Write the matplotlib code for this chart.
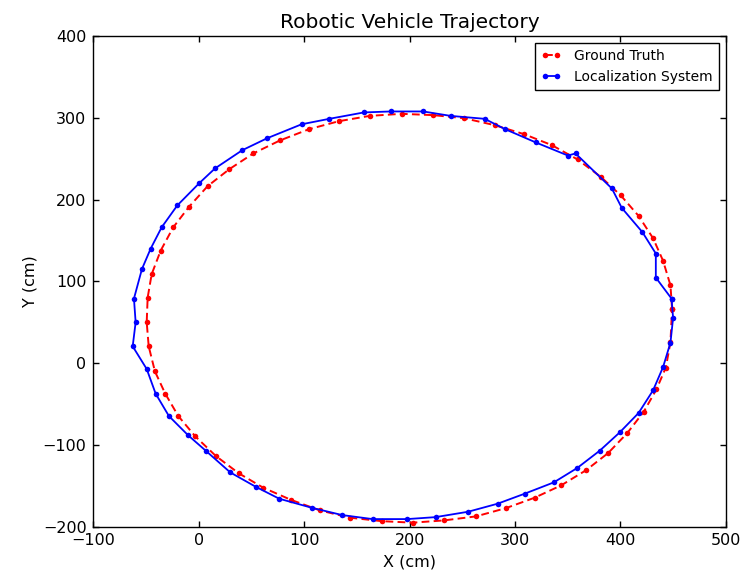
import matplotlib
matplotlib.use("Agg")
import matplotlib.pyplot as plt

# ground truth path (cm), counter-clockwise from the right-hand side
gt_x = [449.1, 447.6, 440.6, 431.1, 417.3, 400.5, 381.5, 359.4, 335.0, 308.7,
        280.9, 251.5, 222.4, 192.4, 162.3, 132.9, 104.5, 76.9, 51.6, 28.8,
        8.3, -9.4, -24.3, -36.2, -44.8, -48.6, -49.5, -47.6, -41.7, -31.9,
        -19.5, -3.4, 16.2, 38.0, 61.1, 87.1, 114.9, 143.4, 173.4, 202.8,
        232.8, 263.0, 291.4, 318.6, 343.8, 367.3, 388.4, 406.4, 422.3, 434.3,
        443.2, 447.6, 449.1]
gt_y = [66.6, 95.0, 125.0, 152.6, 180.0, 204.9, 227.7, 249.0, 266.5, 279.9,
        290.9, 299.5, 303.2, 304.8, 302.3, 295.8, 286.0, 272.2, 256.3, 237.0,
        216.3, 191.0, 166.0, 137.6, 108.6, 80.0, 49.8, 20.4, -10.2, -37.5,
        -64.9, -89.7, -113.8, -135.0, -152.5, -167.2, -180.3, -189.2, -193.4, -195.3,
        -192.5, -187.6, -177.5, -164.8, -149.7, -131.3, -110.2, -86.0, -59.5, -32.2,
        -5.6, 25.5, 66.6]

# localization system estimate (cm)
loc_x = [448.6, 433.7, 433.7, 421.0, 401.4, 392.0, 357.5, 350.2, 319.8, 290.7,
         271.2, 238.9, 212.9, 182.0, 156.6, 123.8, 97.5, 64.9, 41.2, 15.3,
         0.4, -20.5, -35.3, -45.7, -54.0, -61.6, -60.0, -62.8, -49.5, -41.0,
         -28.4, -10.1, 6.5, 29.8, 53.9, 76.3, 107.0, 136.1, 164.9, 197.7,
         224.7, 255.6, 283.5, 309.1, 336.9, 359.0, 380.5, 399.5, 417.3, 431.1,
         440.6, 447.6, 450.1, 448.6]
loc_y = [78.8, 104.5, 133.9, 160.0, 189.7, 213.5, 256.3, 253.8, 269.8, 286.0,
         298.7, 302.3, 307.7, 307.7, 306.5, 298.7, 292.0, 275.0, 260.3, 238.0,
         220.0, 192.7, 166.0, 140.0, 115.0, 78.8, 49.8, 20.4, -7.3, -37.5,
         -64.9, -88.5, -107.2, -133.8, -151.3, -166.0, -177.0, -186.0, -190.9, -190.9,
         -188.5, -181.9, -172.1, -159.9, -146.0, -128.5, -107.2, -84.8, -61.2, -33.4,
         -4.9, 25.0, 55.1, 78.8]

x_ticks = [-100, 0, 100, 200, 300, 400, 500]
y_ticks = [-200, -100, 0, 100, 200, 300, 400]

plt.rcParams["font.family"] = "DejaVu Sans"

fig = plt.figure(figsize=(7.42, 5.75), dpi=100)
ax = fig.add_axes([0.126, 0.0843, 0.852, 0.8531])

ax.plot(gt_x, gt_y, color="#ff0000", linestyle=(0, (4, 2.2)), linewidth=1.4,
        marker="o", markersize=4, markeredgewidth=0, label="Ground Truth")
ax.plot(loc_x, loc_y, color="#0000ff", linestyle="-", linewidth=1.3,
        marker="o", markersize=4, markeredgewidth=0, label="Localization System")

ax.set_xlim(-100, 500)
ax.set_ylim(-200, 400)
ax.set_xticks(x_ticks)
ax.set_yticks(y_ticks)
ax.tick_params(direction="in", length=4, width=1, top=True, right=True,
               labelsize=11.5, pad=5)
for s in ax.spines.values():
    s.set_linewidth(1.0)
    s.set_color("black")

ax.set_xlabel("X (cm)", fontsize=11.5)
ax.set_ylabel("Y (cm)", fontsize=11.5)
ax.set_title("Robotic Vehicle Trajectory", fontsize=14.5, pad=6)

leg = ax.legend(loc="upper right", fontsize=10, numpoints=2, handlelength=1.45,
                handletextpad=0.9, borderaxespad=0.5, fancybox=False,
                framealpha=1, edgecolor="black", borderpad=0.45)
leg.get_frame().set_linewidth(1.0)

fig.savefig("out.png", dpi=100, facecolor="white")
